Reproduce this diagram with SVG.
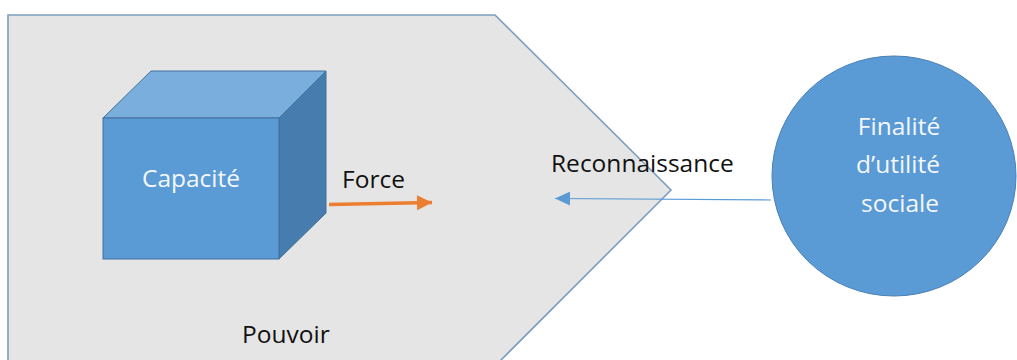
<svg xmlns="http://www.w3.org/2000/svg" width="1017" height="360" viewBox="0 0 1017 360">
<style>
text{font-family:"Open Sans","Noto Sans","Liberation Sans",sans-serif;font-size:24.5px}
.dark{fill:#111}
.light{fill:#F4F7FB;text-anchor:middle}
.cube{stroke:#41719C;stroke-width:1}
</style>
<defs>
<marker id="blueHead" markerWidth="15" markerHeight="14" refX="15" refY="7" orient="auto" markerUnits="userSpaceOnUse">
<path d="M0,0 L15,7 L0,14 Z" fill="#5B9BD5"/>
</marker>
<marker id="orangeHead" markerWidth="15" markerHeight="15" refX="15" refY="7.5" orient="auto" markerUnits="userSpaceOnUse">
<path d="M0,0 L15,7.5 L0,15 Z" fill="#ED7D31"/>
</marker>
</defs>
<rect width="1017" height="360" fill="#FFFFFF"/>
<g id="pouvoir">
<polygon points="8,15 495,15 671,190 496,365 8,365" fill="#E5E5E5" stroke="#7E9EC0" stroke-width="1.6"/>
<text class="dark" x="242" y="343">Pouvoir</text>
</g>
<g id="capacite">
<polygon class="cube" points="103,118 151,71 326,71 279,118" fill="#7AAEDD"/>
<polygon class="cube" points="279,118 326,71 326,213 279,259" fill="#477DAE"/>
<rect class="cube" x="103" y="118" width="176" height="141" fill="#5A9AD5"/>
<text class="light" x="191" y="187">Capacité</text>
</g>
<g id="finalite">
<ellipse cx="894" cy="176" rx="122" ry="120" fill="#5A9AD5" stroke="#4A80B5" stroke-width="1"/>
<text class="light" x="899" y="135">Finalité</text>
<text class="light" x="898" y="173">d’utilité</text>
<text class="light" x="900" y="212">sociale</text>
</g>
<g id="connectors">
<line x1="329" y1="204.5" x2="432" y2="202.5" stroke="#ED7D31" stroke-width="3.5" marker-end="url(#orangeHead)"/>
<text class="dark" x="342" y="188">Force</text>
<line x1="771" y1="200" x2="555" y2="198.5" stroke="#5B9BD5" stroke-width="1.2" marker-end="url(#blueHead)"/>
<text class="dark" x="551" y="172">Reconnaissance</text>
</g>
</svg>
